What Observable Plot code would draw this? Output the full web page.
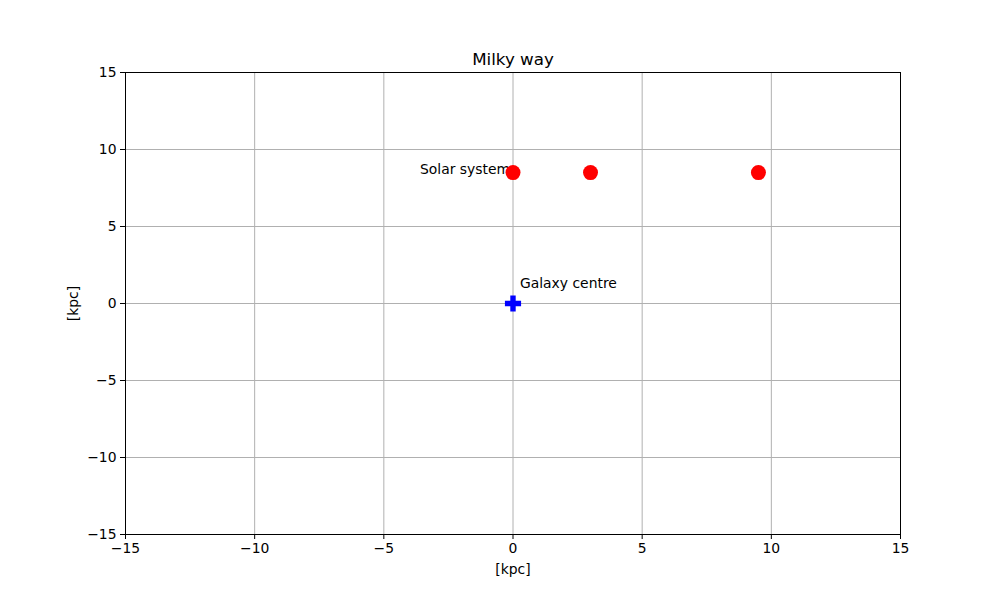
<!DOCTYPE html>
<html>
<head>
<meta charset="utf-8">
<script src="https://cdn.jsdelivr.net/npm/d3@7"></script>
<script src="https://cdn.jsdelivr.net/npm/@observablehq/plot@0.6"></script>
<style>
  body { margin: 0; background: #fff; }
  #chart svg { display: block; }
</style>
</head>
<body>
<div id="chart"></div>
<script>
// stars / objects in the galactic plane [kpc]
const starX = [0, 3, 9.5];
const starY = [8.5, 8.5, 8.5];
const centreX = [0];
const centreY = [0];
const labels = ["Solar system", "Galaxy centre"];
const labelX = [-3.6, 0.27];
const labelY = [8.4, 1.0];
const ticks = [-15, -10, -5, 0, 5, 10, 15];

const stars = starX.map((x, i) => ({ x, y: starY[i] }));
const centre = centreX.map((x, i) => ({ x, y: centreY[i] }));
const notes = labels.map((text, i) => ({ text, x: labelX[i], y: labelY[i] }));

const font = "'DejaVu Sans', sans-serif";
const fs = 13.9;

const plot = Plot.plot({
  width: 1000,
  height: 600,
  marginLeft: 125,
  marginRight: 100,
  marginTop: 72,
  marginBottom: 66,
  style: { fontFamily: font, fontSize: fs + "px", color: "black", background: "white" },
  x: { domain: [-15, 15], ticks },
  y: { domain: [-15, 15], ticks },
  marks: [
    Plot.gridX(ticks, { stroke: "#b0b0b0", strokeOpacity: 1, strokeWidth: 1 }),
    Plot.gridY(ticks, { stroke: "#b0b0b0", strokeOpacity: 1, strokeWidth: 1 }),
    Plot.frame({ stroke: "black", strokeWidth: 1 }),
    Plot.axisX(ticks, {
      tickSize: 5, tickPadding: 4, fontSize: fs, label: "[kpc]",
      labelAnchor: "center", labelArrow: "none", labelOffset: 39
    }),
    Plot.axisY(ticks, {
      tickSize: 5, tickPadding: 4, fontSize: fs, label: "[kpc]",
      labelAnchor: "center", labelArrow: "none", labelOffset: 57
    }),
    Plot.text(notes, {
      x: "x", y: "y", text: "text", textAnchor: "start", lineAnchor: "bottom",
      fontSize: fs, fill: "black"
    }),
    Plot.dot(stars, { x: "x", y: "y", r: 7.5, fill: "red", stroke: "none" }),
    Plot.dot(centre, { x: "x", y: "y", symbol: "cross", r: 6.8, fill: "blue", stroke: "none" }),
    Plot.text(["Milky way"], {
      frameAnchor: "top", fontSize: 16.7, fill: "black", lineAnchor: "bottom", dy: -8
    })
  ]
});

document.getElementById("chart").appendChild(plot);
</script>
</body>
</html>
